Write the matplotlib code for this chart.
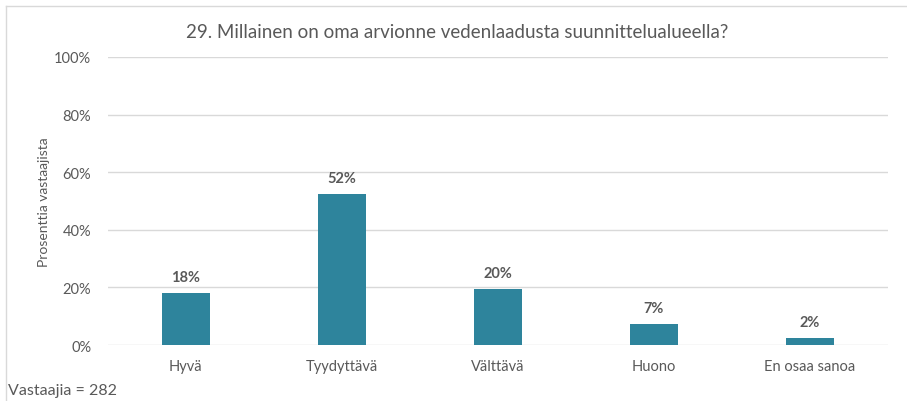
import matplotlib
matplotlib.use("Agg")
import matplotlib.pyplot as plt
from matplotlib.lines import Line2D
from matplotlib.ticker import FuncFormatter

categories = ["Hyvä", "Tyydyttävä", "Välttävä", "Huono", "En osaa sanoa"]
values = [18.1, 52.4, 19.5, 7.4, 2.5]
title = "29. Millainen on oma arvionne vedenlaadusta suunnittelualueella?"
respondents = 282

plt.rcParams["font.family"] = ["Lato", "DejaVu Sans"]
text_color = "#595959"
bar_color = "#2E849C"
grid_color = "#D9D9D9"

fig = plt.figure(figsize=(9.07, 4.02), dpi=100)
ax = fig.add_axes([0.119, 0.139, 0.860, 0.717])

x = range(len(categories))
bars = ax.bar(x, values, width=0.31, color=bar_color, zorder=3)
for b, v in zip(bars, values):
    ax.text(b.get_x() + b.get_width() / 2, v + 3, f"{v:.0f}%", ha="center", va="bottom",
            fontsize=10.5, fontweight="bold", color=text_color)

ax.set_xlim(-0.5, len(categories) - 0.5)
ax.set_ylim(0, 100)
ax.set_yticks(range(0, 101, 20))
ax.yaxis.set_major_formatter(FuncFormatter(lambda v, p: f"{v:.0f}%"))
ax.set_xticks(list(x))
ax.set_xticklabels(categories)
ax.tick_params(axis="both", length=0, labelsize=10.5, colors=text_color)
ax.tick_params(axis="x", pad=10)
ax.tick_params(axis="y", pad=12)
ax.grid(axis="y", color=grid_color, linewidth=1, zorder=0)
for s in ax.spines.values():
    s.set_visible(False)
ax.set_ylabel("Prosenttia vastaajista", fontsize=10, color=text_color, labelpad=3)

fig.text(0.504, 0.918, title, ha="center", va="center", fontsize=13.5, color=text_color)
fig.text(0.009, 0.028, f"Vastaajia = {respondents}", ha="left", va="center", fontsize=11.5, color=text_color)

# chart border (top and left visible)
fig.add_artist(Line2D([6 / 907, 1], [1 - 7 / 402, 1 - 7 / 402], color="#D9D9D9", linewidth=1))
fig.add_artist(Line2D([6 / 907, 6 / 907], [0, 1 - 7 / 402], color="#D9D9D9", linewidth=1))

fig.savefig("out.png", dpi=100)
